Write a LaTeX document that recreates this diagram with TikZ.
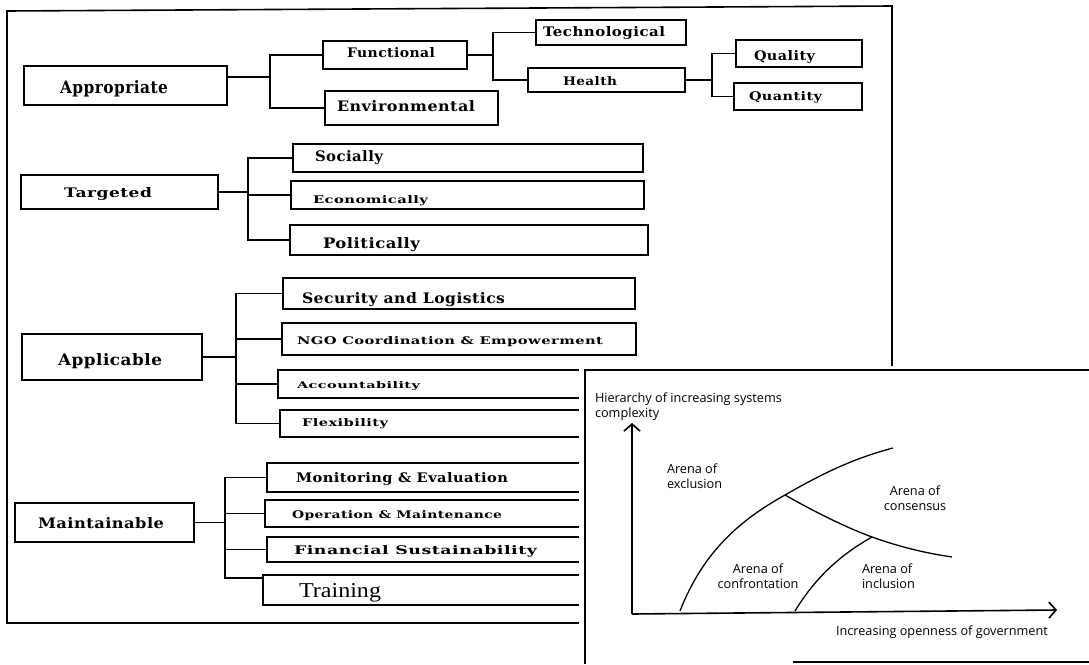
\documentclass[tikz,border=0pt]{standalone}
\usepackage{fontspec}
\setmainfont{Liberation Serif}
\newfontfamily\treefont[LetterSpace=3]{DejaVu Serif}
\newfontfamily\insetfont{Open Sans}
\usetikzlibrary{arrows.meta}
\newcommand\fitt[3]{\resizebox{#1pt}{#2pt}{\treefont\bfseries #3}}
\newcommand\bx[5]{\node[box, minimum width={(#4-#2)*1pt}, minimum height={(#5-#3)*1pt}] (#1) at ({(#2+#4)/2},{(#3+#5)/2}) {};}
\newcommand\tx[6]{\node[txt] (#1-t) at (#2,#3) {\fitt{#4}{#5}{#6}};}
\begin{document}
\begin{tikzpicture}[x=1pt,y=-1pt,
  box/.style={draw, line width=1.4pt, rectangle, inner sep=0pt, outer sep=0pt},
  ln/.style={line width=1.4pt},
  frm/.style={line width=1.6pt},
  txt/.style={inner sep=0pt, outer sep=0pt, anchor=base west},
  lab/.style={font=\insetfont\fontsize{12.7}{15.5}\selectfont, inner sep=0pt, outer sep=0pt},
  ax/.style={line width=1.6pt},
  crv/.style={line width=1.3pt},
  tip/.style={-{Straight Barb[length=7pt,width=16pt,line width=1.6pt]}}]
\useasboundingbox (0,0) rectangle (1089,664);

% main frame
\draw[frm] (600,623) -- (7,623) -- (7,11) -- (892,6) -- (892,380);

% boxes
\bx{app}{24}{66}{227}{105}
\bx{fun}{323}{41}{467}{69}
\bx{env}{325}{91}{498}{125}
\bx{tech}{536}{20}{686}{45}
\bx{hea}{528}{68}{685}{92}
\bx{qual}{736}{40}{862}{67}
\bx{quan}{734}{83}{862}{110}
\bx{tar}{21}{175}{218}{209}
\bx{soc}{293}{144}{643}{172}
\bx{eco}{291}{181}{644}{209}
\bx{pol}{290}{225}{648}{255}
\bx{sec}{283}{278}{635}{309}
\bx{ngo}{282}{323}{636}{355}
\bx{acc}{278}{370}{620}{398}
\bx{fle}{280}{410}{620}{437}
\bx{apl}{22}{334}{202}{380}
\bx{mai}{15}{503}{194}{542}
\bx{mon}{267}{463}{620}{492}
\bx{ope}{265}{500}{620}{527}
\bx{fin}{267}{537}{620}{562}
\bx{tra}{263}{575}{620}{605}

% texts
\tx{app}{60}{93}{108}{13}{Appropriate}
\tx{fun}{347}{57}{88}{10}{Functional}
\tx{env}{337}{111}{138}{11}{Environmental}
\tx{tech}{543}{36}{122}{10}{Technological}
\tx{hea}{563}{85}{54}{9}{Health}
\tx{qual}{754}{60}{61}{10}{Quality}
\tx{quan}{749}{100}{73}{9}{Quantity}
\tx{tar}{64}{197}{88}{10}{Targeted}
\tx{soc}{315}{161}{68}{11}{Socially}
\tx{eco}{313}{203}{115}{8}{Economically}
\tx{pol}{323}{248}{97}{11}{Politically}
\tx{sec}{302}{303}{203}{11}{Security and Logistics}
\tx{ngo}{297}{344}{306}{8}{NGO Coordination \& Empowerment}
\tx{acc}{297}{388}{123}{7}{Accountability}
\tx{fle}{302}{426}{86}{8}{Flexibility}
\tx{apl}{58}{365}{104}{12}{Applicable}
\tx{mai}{38}{528}{126}{11}{Maintainable}
\tx{mon}{296}{482}{212}{10}{Monitoring \& Evaluation}
\tx{ope}{292}{518}{210}{8}{Operation \& Maintenance}
\tx{fin}{294}{554}{243}{9}{Financial Sustainability}
\node[txt] (tra-t) at (299,597) {\resizebox{82pt}{14pt}{Training}};

% connectors
\coordinate (t1) at (270,77);
\draw[ln] ([yshift=8.5pt]app.east) -- (t1);
\draw[ln] (fun.west) -| (t1) |- (env.west);
\coordinate (t2) at (493,55);
\draw[ln] (fun.east) -- (t2);
\draw[ln] (tech.west) -| (t2) |- (hea.west);
\coordinate (t3) at (712,80);
\draw[ln] (hea.east) -- (t3);
\draw[ln] (qual.west) -| (t3) |- (quan.west);
\coordinate (t4) at (248,192);
\draw[ln] (tar.east) -- (t4);
\draw[ln] (soc.west) -| (t4) |- (pol.west);
\draw[ln] (t4 |- eco.west) -- (eco.west);
\coordinate (t5) at (236,357);
\draw[ln] (apl.east) -- (t5);
\draw[ln] (sec.west) -| (t5) |- (fle.west);
\draw[ln] (t5 |- ngo.west) -- (ngo.west);
\draw[ln] (t5 |- acc.west) -- (acc.west);
\coordinate (t6) at (225,522.5);
\draw[ln] (mai.east) -- (t6);
\draw[ln] (mon.west) -| (t6) |- ([yshift=12pt]tra.west);
\draw[ln] (t6 |- ope.west) -- (ope.west);
\draw[ln] (t6 |- fin.west) -- (fin.west);

% inset
\fill[white] (579,366) rectangle (1089,664);
\draw[frm] (1089,370) -- (585,370) -- (585,664);
\draw[frm] (793,662) -- (1089,662);

\coordinate (O) at (632,614);
\coordinate (ytop) at (632,423);
\coordinate (xend) at (1057,610);
\draw[ax,tip] (O) -- (ytop);
\draw[ax,tip] (O) -- (xend);

\coordinate (c1s) at (680,611);
\coordinate (j1) at (785,495);
\coordinate (c1e) at (893,448);
\coordinate (j2) at (872,537);
\coordinate (c2e) at (952,557);
\coordinate (c3s) at (795,611);
\draw[crv] (c1s) .. controls (703,552) and (740,520) .. (j1)
                 .. controls (825,472) and (855,458) .. (c1e);
\draw[crv] (j1) .. controls (815,512) and (845,527) .. (j2)
                .. controls (900,547) and (925,553) .. (c2e);
\draw[crv] (c3s) .. controls (815,578) and (840,555) .. (j2);

\node[lab, anchor=north west, align=left] (ylab) at (595,392.5) {Hierarchy of increasing systems\\complexity};
\node[lab, anchor=base west] (xlab) at (836,635) {Increasing openness of government};
\node[lab, anchor=north west, align=left] (excl) at (667,463.5) {Arena of\\exclusion};
\node[lab, anchor=north, align=center] (cons) at (915,485.5) {Arena of\\consensus};
\node[lab, anchor=north, align=center] (conf) at (758,563.5) {Arena of\\confrontation};
\node[lab, anchor=north west, align=left] (incl) at (862,563.5) {Arena of\\inclusion};
\end{tikzpicture}
\end{document}
